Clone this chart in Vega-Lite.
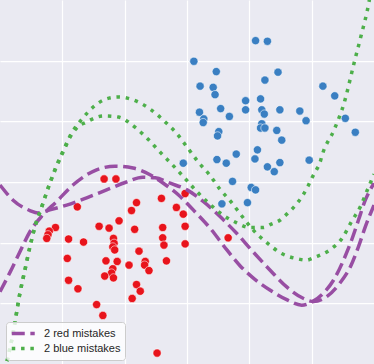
{
  "$schema": "https://vega.github.io/schema/vega-lite/v6.json",
  "width": 374,
  "height": 364,
  "autosize": {"type": "fit", "contains": "padding"},
  "padding": 0,
  "background": "#EAEAF2",
  "config": {
    "view": {"stroke": null, "fill": "#EAEAF2"},
    "axis": {"grid": true, "gridColor": "#ffffff", "gridWidth": 1.25, "labels": false, "ticks": false, "domain": false, "title": null}
  },
  "datasets": {
    "red": [
      {"x":-1.33,"y":0.05},{"x":-1.14,"y":0.05},{"x":-1.76,"y":-0.41},{"x":-0.81,"y":-0.34},{"x":-0.89,"y":-0.47},
      {"x":-0.41,"y":-0.27},{"x":-0.17,"y":-0.42},{"x":-0.03,"y":-0.19},{"x":-0.06,"y":-0.53},{"x":-0.03,"y":-0.73},
      {"x":-0.03,"y":-1.02},{"x":-1.09,"y":-0.64},{"x":-1.41,"y":-0.73},{"x":-1.25,"y":-0.76},{"x":-0.84,"y":-0.78},
      {"x":-0.39,"y":-0.75},{"x":-0.39,"y":-0.92},{"x":-0.37,"y":-1.04},{"x":-2.11,"y":-0.75},{"x":-2.21,"y":-0.81},
      {"x":-2.23,"y":-0.87},{"x":-2.25,"y":-0.93},{"x":-1.90,"y":-0.94},{"x":-1.66,"y":-0.99},{"x":-1.18,"y":-0.93},
      {"x":-1.17,"y":-1.01},{"x":-1.19,"y":-1.07},{"x":-1.16,"y":-1.12},{"x":-0.77,"y":-1.14},{"x":-1.92,"y":-1.26},
      {"x":-1.30,"y":-1.30},{"x":-1.12,"y":-1.31},{"x":-0.93,"y":-1.37},{"x":-0.67,"y":-1.31},{"x":-0.68,"y":-1.37},
      {"x":-0.61,"y":-1.46},{"x":-0.33,"y":-1.30},{"x":-1.19,"y":-1.43},{"x":-1.21,"y":-1.50},{"x":-1.32,"y":-1.55},
      {"x":-1.18,"y":-1.58},{"x":-1.90,"y":-1.62},{"x":-1.75,"y":-1.76},{"x":-0.81,"y":-1.69},{"x":-0.75,"y":-1.80},
      {"x":-0.88,"y":-1.92},{"x":-1.45,"y":-2.02},{"x":-1.35,"y":-2.20},{"x":-0.48,"y":-2.82},{"x":0.66,"y":-0.92}
    ],
    "blue": [
      {"x":1.10,"y":2.33},{"x":1.29,"y":2.32},{"x":0.11,"y":1.99},{"x":0.47,"y":1.82},{"x":1.46,"y":1.81},
      {"x":1.25,"y":1.68},{"x":0.21,"y":1.58},{"x":0.42,"y":1.56},{"x":0.45,"y":1.44},{"x":2.18,"y":1.58},
      {"x":2.37,"y":1.42},{"x":0.94,"y":1.34},{"x":1.18,"y":1.37},{"x":0.54,"y":1.21},{"x":0.20,"y":1.15},
      {"x":0.27,"y":1.04},{"x":0.26,"y":0.98},{"x":0.68,"y":1.08},{"x":0.94,"y":1.19},{"x":1.20,"y":1.19},
      {"x":1.24,"y":1.12},{"x":1.49,"y":1.19},{"x":1.81,"y":1.17},{"x":1.91,"y":1.01},{"x":2.54,"y":1.05},
      {"x":2.70,"y":0.82},{"x":1.20,"y":0.96},{"x":1.18,"y":0.89},{"x":1.25,"y":0.89},{"x":1.44,"y":0.85},
      {"x":1.52,"y":0.69},{"x":0.51,"y":0.83},{"x":0.49,"y":0.76},{"x":1.13,"y":0.53},{"x":0.79,"y":0.46},
      {"x":0.48,"y":0.37},{"x":0.63,"y":0.31},{"x":1.09,"y":0.38},{"x":-0.06,"y":0.31},{"x":1.29,"y":0.25},
      {"x":1.49,"y":0.32},{"x":1.40,"y":0.17},{"x":1.96,"y":0.36},{"x":0.73,"y":0.01},{"x":1.03,"y":-0.09},
      {"x":1.10,"y":-0.13},{"x":0.56,"y":-0.36},{"x":0.97,"y":-0.34}
    ],
    "curves": [
      {"series":"2 red mistakes","curve":"r2","x":-3.00,"y":-1.81},
      {"series":"2 red mistakes","curve":"r2","x":-2.84,"y":-1.49},
      {"series":"2 red mistakes","curve":"r2","x":-2.68,"y":-1.15},
      {"series":"2 red mistakes","curve":"r2","x":-2.52,"y":-0.82},
      {"series":"2 red mistakes","curve":"r2","x":-2.31,"y":-0.54},
      {"series":"2 red mistakes","curve":"r2","x":-2.09,"y":-0.32},
      {"series":"2 red mistakes","curve":"r2","x":-1.83,"y":-0.05},
      {"series":"2 red mistakes","curve":"r2","x":-1.45,"y":0.20},
      {"series":"2 red mistakes","curve":"r2","x":-1.155,"y":0.26},
      {"series":"2 red mistakes","curve":"r2","x":-0.866,"y":0.23},
      {"series":"2 red mistakes","curve":"r2","x":-0.593,"y":0.12},
      {"series":"2 red mistakes","curve":"r2","x":-0.38,"y":-0.02},
      {"series":"2 red mistakes","curve":"r2","x":-0.14,"y":-0.21},
      {"series":"2 red mistakes","curve":"r2","x":0.10,"y":-0.46},
      {"series":"2 red mistakes","curve":"r2","x":0.37,"y":-0.76},
      {"series":"2 red mistakes","curve":"r2","x":0.64,"y":-1.12},
      {"series":"2 red mistakes","curve":"r2","x":0.85,"y":-1.38},
      {"series":"2 red mistakes","curve":"r2","x":1.06,"y":-1.58},
      {"series":"2 red mistakes","curve":"r2","x":1.33,"y":-1.78},
      {"series":"2 red mistakes","curve":"r2","x":1.60,"y":-1.94},
      {"series":"2 red mistakes","curve":"r2","x":1.84,"y":-2.03},
      {"series":"2 red mistakes","curve":"r2","x":2.00,"y":-1.98},
      {"series":"2 red mistakes","curve":"r2","x":2.19,"y":-1.83},
      {"series":"2 red mistakes","curve":"r2","x":2.35,"y":-1.62},
      {"series":"2 red mistakes","curve":"r2","x":2.51,"y":-1.29},
      {"series":"2 red mistakes","curve":"r2","x":2.64,"y":-0.96},
      {"series":"2 red mistakes","curve":"r2","x":2.75,"y":-0.63},
      {"series":"2 red mistakes","curve":"r2","x":2.86,"y":-0.30},
      {"series":"2 red mistakes","curve":"r2","x":3.00,"y":-0.02},
      {"series":"2 red mistakes","curve":"r1","x":-3.00,"y":-0.05},
      {"series":"2 red mistakes","curve":"r1","x":-2.79,"y":-0.30},
      {"series":"2 red mistakes","curve":"r1","x":-2.52,"y":-0.47},
      {"series":"2 red mistakes","curve":"r1","x":-2.39,"y":-0.51},
      {"series":"2 red mistakes","curve":"r1","x":-2.20,"y":-0.46},
      {"series":"2 red mistakes","curve":"r1","x":-1.93,"y":-0.38},
      {"series":"2 red mistakes","curve":"r1","x":-1.61,"y":-0.26},
      {"series":"2 red mistakes","curve":"r1","x":-1.29,"y":-0.13},
      {"series":"2 red mistakes","curve":"r1","x":-0.97,"y":0.00},
      {"series":"2 red mistakes","curve":"r1","x":-0.71,"y":0.08},
      {"series":"2 red mistakes","curve":"r1","x":-0.51,"y":0.07},
      {"series":"2 red mistakes","curve":"r1","x":-0.27,"y":-0.02},
      {"series":"2 red mistakes","curve":"r1","x":0.00,"y":-0.13},
      {"series":"2 red mistakes","curve":"r1","x":0.26,"y":-0.32},
      {"series":"2 red mistakes","curve":"r1","x":0.53,"y":-0.57},
      {"series":"2 red mistakes","curve":"r1","x":0.80,"y":-0.85},
      {"series":"2 red mistakes","curve":"r1","x":1.06,"y":-1.15},
      {"series":"2 red mistakes","curve":"r1","x":1.33,"y":-1.45},
      {"series":"2 red mistakes","curve":"r1","x":1.60,"y":-1.73},
      {"series":"2 red mistakes","curve":"r1","x":1.87,"y":-1.92},
      {"series":"2 red mistakes","curve":"r1","x":2.03,"y":-1.97},
      {"series":"2 red mistakes","curve":"r1","x":2.24,"y":-1.89},
      {"series":"2 red mistakes","curve":"r1","x":2.45,"y":-1.67},
      {"series":"2 red mistakes","curve":"r1","x":2.62,"y":-1.40},
      {"series":"2 red mistakes","curve":"r1","x":2.75,"y":-1.07},
      {"series":"2 red mistakes","curve":"r1","x":2.86,"y":-0.74},
      {"series":"2 red mistakes","curve":"r1","x":3.00,"y":-0.38},
      {"series":"2 blue mistakes","curve":"b1","x":-2.92,"y":-3.10},
      {"series":"2 blue mistakes","curve":"b1","x":-2.79,"y":-2.49},
      {"series":"2 blue mistakes","curve":"b1","x":-2.68,"y":-1.83},
      {"series":"2 blue mistakes","curve":"b1","x":-2.60,"y":-1.45},
      {"series":"2 blue mistakes","curve":"b1","x":-2.52,"y":-1.07},
      {"series":"2 blue mistakes","curve":"b1","x":-2.44,"y":-0.74},
      {"series":"2 blue mistakes","curve":"b1","x":-2.33,"y":-0.41},
      {"series":"2 blue mistakes","curve":"b1","x":-2.20,"y":-0.02},
      {"series":"2 blue mistakes","curve":"b1","x":-2.09,"y":0.28},
      {"series":"2 blue mistakes","curve":"b1","x":-1.98,"y":0.53},
      {"series":"2 blue mistakes","curve":"b1","x":-1.85,"y":0.81},
      {"series":"2 blue mistakes","curve":"b1","x":-1.69,"y":1.03},
      {"series":"2 blue mistakes","curve":"b1","x":-1.50,"y":1.24},
      {"series":"2 blue mistakes","curve":"b1","x":-1.29,"y":1.37},
      {"series":"2 blue mistakes","curve":"b1","x":-1.10,"y":1.40},
      {"series":"2 blue mistakes","curve":"b1","x":-0.83,"y":1.34},
      {"series":"2 blue mistakes","curve":"b1","x":-0.59,"y":1.20},
      {"series":"2 blue mistakes","curve":"b1","x":-0.35,"y":0.99},
      {"series":"2 blue mistakes","curve":"b1","x":-0.165,"y":0.80},
      {"series":"2 blue mistakes","curve":"b1","x":0.005,"y":0.57},
      {"series":"2 blue mistakes","curve":"b1","x":0.18,"y":0.33},
      {"series":"2 blue mistakes","curve":"b1","x":0.36,"y":0.12},
      {"series":"2 blue mistakes","curve":"b1","x":0.53,"y":-0.12},
      {"series":"2 blue mistakes","curve":"b1","x":0.70,"y":-0.32},
      {"series":"2 blue mistakes","curve":"b1","x":0.88,"y":-0.56},
      {"series":"2 blue mistakes","curve":"b1","x":1.06,"y":-0.79},
      {"series":"2 blue mistakes","curve":"b1","x":1.28,"y":-1.00},
      {"series":"2 blue mistakes","curve":"b1","x":1.52,"y":-1.18},
      {"series":"2 blue mistakes","curve":"b1","x":1.79,"y":-1.27},
      {"series":"2 blue mistakes","curve":"b1","x":1.91,"y":-1.29},
      {"series":"2 blue mistakes","curve":"b1","x":2.05,"y":-1.24},
      {"series":"2 blue mistakes","curve":"b1","x":2.29,"y":-1.12},
      {"series":"2 blue mistakes","curve":"b1","x":2.50,"y":-0.91},
      {"series":"2 blue mistakes","curve":"b1","x":2.64,"y":-0.65},
      {"series":"2 blue mistakes","curve":"b1","x":2.78,"y":-0.41},
      {"series":"2 blue mistakes","curve":"b1","x":2.89,"y":-0.14},
      {"series":"2 blue mistakes","curve":"b1","x":3.00,"y":0.13},
      {"series":"2 blue mistakes","curve":"b2","x":-2.92,"y":-3.10},
      {"series":"2 blue mistakes","curve":"b2","x":-2.79,"y":-2.49},
      {"series":"2 blue mistakes","curve":"b2","x":-2.68,"y":-1.83},
      {"series":"2 blue mistakes","curve":"b2","x":-2.60,"y":-1.45},
      {"series":"2 blue mistakes","curve":"b2","x":-2.52,"y":-1.07},
      {"series":"2 blue mistakes","curve":"b2","x":-2.44,"y":-0.74},
      {"series":"2 blue mistakes","curve":"b2","x":-2.33,"y":-0.41},
      {"series":"2 blue mistakes","curve":"b2","x":-2.20,"y":-0.02},
      {"series":"2 blue mistakes","curve":"b2","x":-2.09,"y":0.26},
      {"series":"2 blue mistakes","curve":"b2","x":-1.98,"y":0.51},
      {"series":"2 blue mistakes","curve":"b2","x":-1.88,"y":0.73},
      {"series":"2 blue mistakes","curve":"b2","x":-1.77,"y":0.89},
      {"series":"2 blue mistakes","curve":"b2","x":-1.61,"y":0.99},
      {"series":"2 blue mistakes","curve":"b2","x":-1.34,"y":1.09},
      {"series":"2 blue mistakes","curve":"b2","x":-1.10,"y":1.07},
      {"series":"2 blue mistakes","curve":"b2","x":-0.83,"y":0.90},
      {"series":"2 blue mistakes","curve":"b2","x":-0.62,"y":0.70},
      {"series":"2 blue mistakes","curve":"b2","x":-0.42,"y":0.48},
      {"series":"2 blue mistakes","curve":"b2","x":-0.23,"y":0.28},
      {"series":"2 blue mistakes","curve":"b2","x":-0.05,"y":0.08},
      {"series":"2 blue mistakes","curve":"b2","x":0.16,"y":-0.16},
      {"series":"2 blue mistakes","curve":"b2","x":0.35,"y":-0.35},
      {"series":"2 blue mistakes","curve":"b2","x":0.57,"y":-0.54},
      {"series":"2 blue mistakes","curve":"b2","x":0.79,"y":-0.67},
      {"series":"2 blue mistakes","curve":"b2","x":1.01,"y":-0.75},
      {"series":"2 blue mistakes","curve":"b2","x":1.22,"y":-0.75},
      {"series":"2 blue mistakes","curve":"b2","x":1.36,"y":-0.69},
      {"series":"2 blue mistakes","curve":"b2","x":1.49,"y":-0.63},
      {"series":"2 blue mistakes","curve":"b2","x":1.60,"y":-0.53},
      {"series":"2 blue mistakes","curve":"b2","x":1.70,"y":-0.43},
      {"series":"2 blue mistakes","curve":"b2","x":1.79,"y":-0.32},
      {"series":"2 blue mistakes","curve":"b2","x":1.87,"y":-0.20},
      {"series":"2 blue mistakes","curve":"b2","x":1.94,"y":-0.07},
      {"series":"2 blue mistakes","curve":"b2","x":2.00,"y":0.06},
      {"series":"2 blue mistakes","curve":"b2","x":2.07,"y":0.19},
      {"series":"2 blue mistakes","curve":"b2","x":2.13,"y":0.31},
      {"series":"2 blue mistakes","curve":"b2","x":2.17,"y":0.45},
      {"series":"2 blue mistakes","curve":"b2","x":2.36,"y":0.86},
      {"series":"2 blue mistakes","curve":"b2","x":2.52,"y":1.30},
      {"series":"2 blue mistakes","curve":"b2","x":2.68,"y":1.96},
      {"series":"2 blue mistakes","curve":"b2","x":2.79,"y":2.40},
      {"series":"2 blue mistakes","curve":"b2","x":2.92,"y":2.97},
      {"series":"2 blue mistakes","curve":"b2","x":2.95,"y":3.15}
    ]
  },
  "encoding": {
    "x": {"field": "x", "type": "quantitative", "scale": {"domain": [-3, 3], "nice": false, "zero": false}, "axis": {"values": [-2, -1, 0, 1, 2]}},
    "y": {"field": "y", "type": "quantitative", "scale": {"domain": [-3, 3], "nice": false, "zero": false}, "axis": {"values": [-2, -1, 0, 1, 2]}}
  },
  "layer": [
    {
      "data": {"name": "red"},
      "mark": {"type": "circle", "size": 68, "fill": "#e8141c", "fillOpacity": 1, "stroke": "#ffffff", "strokeOpacity": 0.55, "strokeWidth": 1}
    },
    {
      "data": {"name": "blue"},
      "mark": {"type": "circle", "size": 68, "fill": "#3a7fc2", "fillOpacity": 1, "stroke": "#ffffff", "strokeOpacity": 0.55, "strokeWidth": 1}
    },
    {
      "data": {"name": "curves"},
      "mark": {"type": "line", "interpolate": "monotone", "strokeWidth": 3.5, "clip": true},
      "encoding": {
        "detail": {"field": "curve", "type": "nominal"},
        "color": {
          "field": "series", "type": "nominal",
          "scale": {"domain": ["2 red mistakes", "2 blue mistakes"], "range": ["#984ea3", "#4daf4a"]},
          "legend": {
            "title": null, "orient": "none", "legendX": 6, "legendY": 322,
            "fillColor": "rgba(255,255,255,0.8)", "strokeColor": "#cccccc", "cornerRadius": 3, "padding": 4,
            "symbolType": "M-1,0H3", "symbolSize": 132, "symbolStrokeWidth": 3.5,
            "labelFont": "Liberation Sans", "labelFontSize": 11, "labelColor": "#262626", "labelOffset": 19, "rowPadding": -1
          }
        },
        "strokeDash": {
          "field": "series", "type": "nominal",
          "scale": {"domain": ["2 red mistakes", "2 blue mistakes"], "range": [[13, 5.6], [3.5, 5.8]]},
          "legend": {
            "title": null, "orient": "none", "legendX": 6, "legendY": 322,
            "fillColor": "rgba(255,255,255,0.8)", "strokeColor": "#cccccc", "cornerRadius": 3, "padding": 4,
            "symbolType": "M-1,0H3", "symbolSize": 132, "symbolStrokeWidth": 3.5,
            "labelFont": "Liberation Sans", "labelFontSize": 11, "labelColor": "#262626", "labelOffset": 19, "rowPadding": -1
          }
        }
      }
    }
  ]
}
